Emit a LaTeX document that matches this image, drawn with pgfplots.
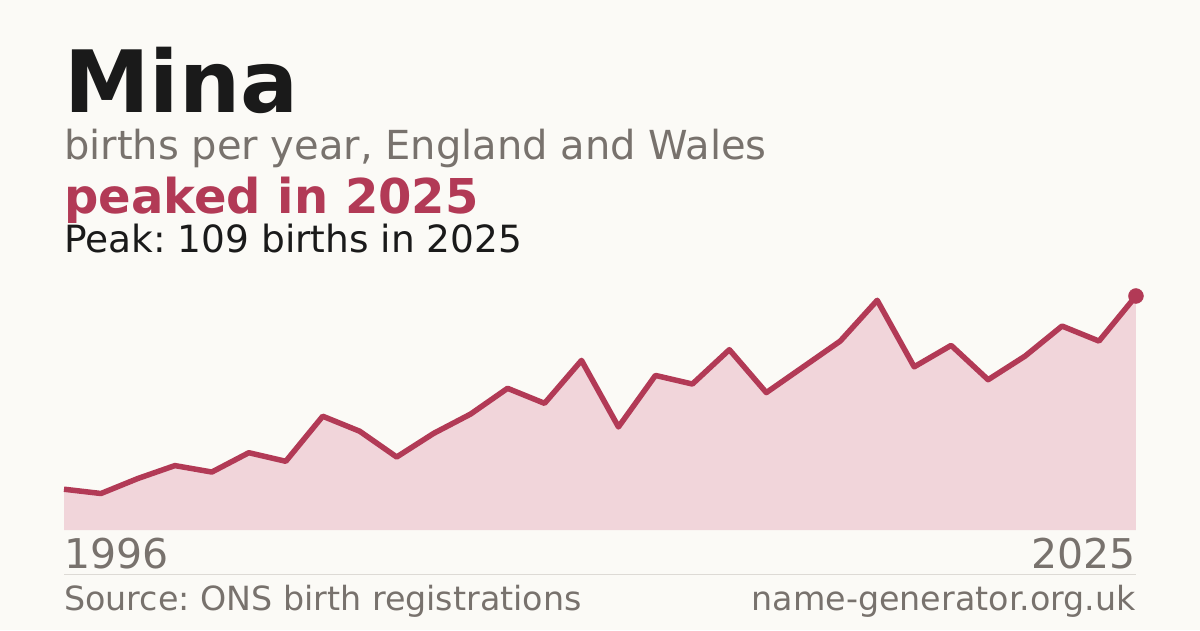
\documentclass[border=0pt]{standalone}
\usepackage{pgfplots}
\pgfplotsset{compat=1.18}
\usepackage{fontspec}
\setmainfont{DejaVu Sans}
\frenchspacing
\definecolor{bg}{HTML}{FBFAF6}
\definecolor{ink}{HTML}{1A1A1A}
\definecolor{muted}{HTML}{78726D}
\definecolor{accent}{HTML}{B23A56}
\definecolor{area}{HTML}{F1D5DA}
\definecolor{rule}{HTML}{DDDAD5}

\pgfplotstableread{
year births
1996 19
1997 17
1998 24
1999 30
2000 27
2001 36
2002 32
2003 53
2004 46
2005 34
2006 45
2007 54
2008 66
2009 59
2010 79
2011 48
2012 72
2013 68
2014 84
2015 64
2016 76
2017 88
2018 107
2019 76
2020 86
2021 70
2022 81
2023 95
2024 88
2025 109
}\births

\begin{document}
\begin{tikzpicture}[x=1pt,y=1pt]
  \fill[bg] (0,0) rectangle (1200,630);
  \useasboundingbox (0,0) rectangle (1200,630);

  % headline block
  \node[anchor=base west, inner sep=0, text=ink]
    at (64,517) {\fontsize{86}{86}\selectfont\bfseries Mina};
  \node[anchor=base west, inner sep=0, text=muted]
    at (64,470) {\fontsize{40}{40}\selectfont births per year, England and Wales};
  \node[anchor=base west, inner sep=0, text=accent]
    at (64,416) {\fontsize{48}{48}\selectfont\bfseries peaked in 2025};
  \node[anchor=base west, inner sep=0, text=ink]
    at (64,377) {\fontsize{37.5}{37.5}\selectfont Peak: 109 births in 2025};

  \begin{axis}[
      at={(64pt,100pt)}, anchor=south west,
      scale only axis, width=1072pt, height=234pt,
      xmin=1996, xmax=2025, ymin=0, ymax=109,
      hide axis, clip=false,
    ]
    \addplot[fill=area, draw=none] table[x=year, y=births] {\births} \closedcycle;
    \addplot[accent, line width=5.5pt, line join=round] table[x=year, y=births] {\births};
    \addplot[only marks, mark=*, mark size=7.5pt, accent] coordinates {(2025,109)};
  \end{axis}

  % year labels and footer
  \node[anchor=base west, inner sep=0, text=muted]
    at (64,62) {\fontsize{41}{41}\selectfont 1996};
  \node[anchor=base east, inner sep=0, text=muted]
    at (1136,62) {\fontsize{41}{41}\selectfont 2025};
  \draw[rule, line width=1pt] (64,56) -- (1136,56);
  \node[anchor=base west, inner sep=0, text=muted]
    at (64,20) {\fontsize{33.3}{33.3}\selectfont Source: ONS birth registrations};
  \node[anchor=base east, inner sep=0, text=muted]
    at (1136,20) {\fontsize{33.3}{33.3}\selectfont name-generator.org.uk};
\end{tikzpicture}
\end{document}
